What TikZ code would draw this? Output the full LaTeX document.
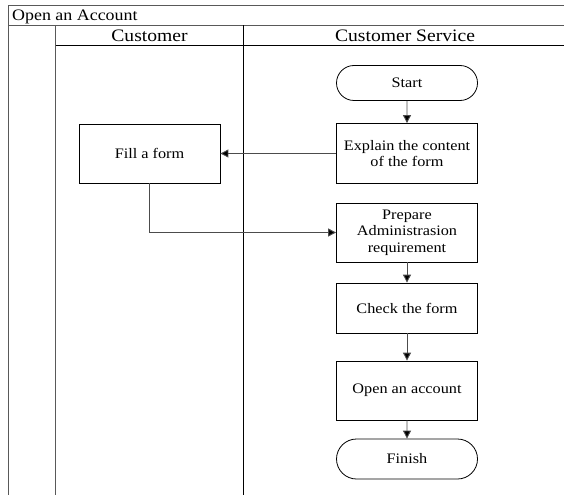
\documentclass[tikz,border=0pt]{standalone}
\usepackage{fontspec}
\setmainfont{Liberation Serif}[FakeStretch=1.12]
\usetikzlibrary{arrows.meta,shapes.misc}
\begin{document}
\begin{tikzpicture}[x=1pt,y=-1pt,
  frame/.style={draw=black!65,line width=1pt},
  lane/.style={draw=black,line width=1pt},
  head/.style={font=\fontsize{17.5}{20}\selectfont,inner sep=0pt},
  proc/.style={draw=black,line width=0.8pt,minimum width=141pt,align=center,
    font=\fontsize{14.5}{16.5}\selectfont,inner sep=0pt},
  term/.style={proc,rounded rectangle},
  conn/.style={draw=black!70,line width=0.9pt,-{Triangle[length=8pt,width=8pt,fill=black]}}]
\useasboundingbox (0,0) rectangle (564,497);
% pool frame
\draw[frame] (564,5.5) -- (8.5,5.5) -- (8.5,495);
\draw[frame] (8.5,25.5) -- (564,25.5);
\draw[frame] (55.5,25.5) -- (55.5,495);
\draw[lane] (55.5,45.5) -- (564,45.5);
\draw[lane] (243,25.5) -- (243,495);
\node[head,font=\fontsize{16}{18}\selectfont,anchor=base west] (title) at (12,21) {Open an Account};
\node[head,anchor=base] (h1) at (149.5,41.5) {Customer};
\node[head,anchor=base] (h2) at (405,41.5) {Customer Service};
% nodes
\node[term,minimum height=35pt] (start) at (407,83) {Start};
\node[proc,minimum height=60pt] (explain) at (407,153.5) {Explain the content\\of the form};
\node[proc,minimum height=59pt] (fill) at (149.5,153.5) {Fill a form};
\node[proc,minimum height=59pt] (prep) at (407,232.5) {Prepare\\Administrasion\\requirement};
\node[proc,minimum height=50pt] (check) at (407,308) {Check the form};
\node[proc,minimum height=59pt] (open) at (407,390.5) {Open an account};
\node[term,minimum height=40pt] (finish) at (407,459) {Finish};
% connectors
\draw[conn] (start) -- (explain);
\draw[conn] (explain) -- (fill);
\draw[conn] (fill.south) |- (prep.west);
\draw[conn] (prep) -- (check);
\draw[conn] (check) -- (open);
\draw[conn] (open) -- (finish);
\end{tikzpicture}
\end{document}
